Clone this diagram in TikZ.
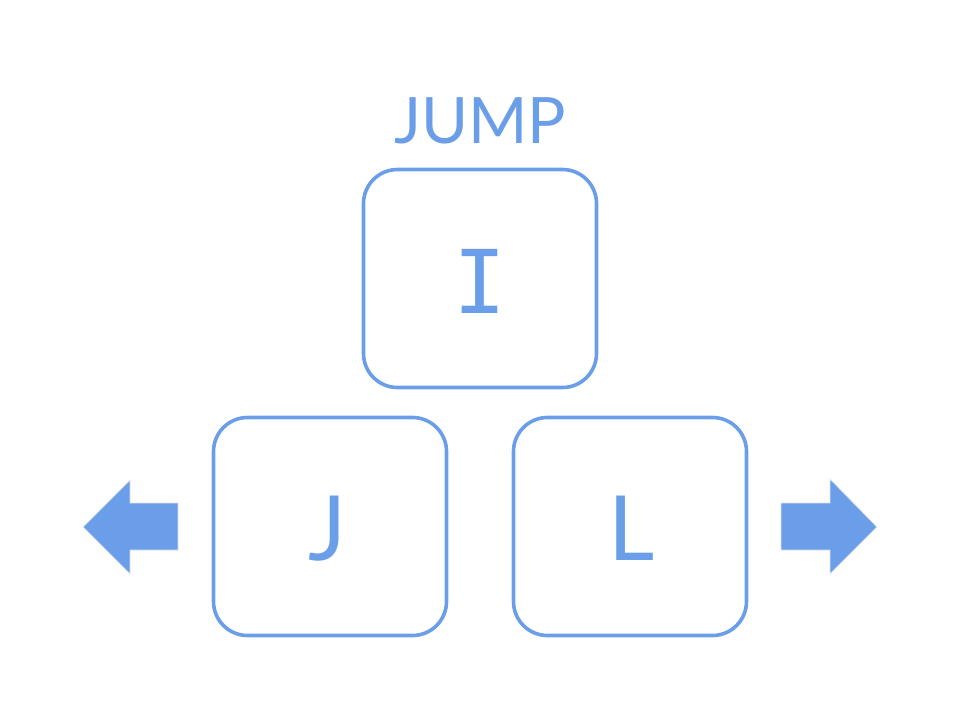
\documentclass[tikz,border=0pt]{standalone}
\usepackage{fontspec}
\setmainfont{Lato}
\newfontfamily\keyfont{DejaVu Sans Mono}
\definecolor{keyblue}{RGB}{107,158,232}
\definecolor{edgegray}{RGB}{225,228,235}
\begin{document}
\begin{tikzpicture}[x=1pt,y=-1pt,
  keybox/.style={draw=keyblue, line width=3.6pt, rounded corners=34pt, minimum width=233pt, minimum height=218pt, inner sep=0pt},
  keylabel/.style={text=keyblue, font=\fontsize{88}{90}\selectfont},
  arrowshape/.style={fill=keyblue, draw=edgegray, line width=0.8pt, line join=miter}]
\useasboundingbox (0,0) rectangle (960,720);
\node[keybox] (ikey) at (480,278.5) {};
\node[keybox] (jkey) at (330,526.5) {};
\node[keybox] (lkey) at (630,526.5) {};
\node[text=keyblue, font=\fontsize{64}{70}\selectfont, anchor=base] (jump) at (480,143) {JUMP};
\node[keylabel, anchor=base] (ilabel) at (480,313) {\keyfont I};
\node[keylabel, anchor=base, font=\fontsize{90}{92}\selectfont] (jlabel) at (328,560) {J};
\node[keylabel, anchor=base, font=\fontsize{90}{92}\selectfont] (llabel) at (632,560) {L};
\draw[arrowshape] (178,503) -- (130,503) -- (130,480) -- (83,527) -- (130,574) -- (130,550) -- (178,550) -- cycle;
\draw[arrowshape] (781,503) -- (830,503) -- (830,479) -- (877,527) -- (830,574) -- (830,550) -- (781,550) -- cycle;
\end{tikzpicture}
\end{document}
